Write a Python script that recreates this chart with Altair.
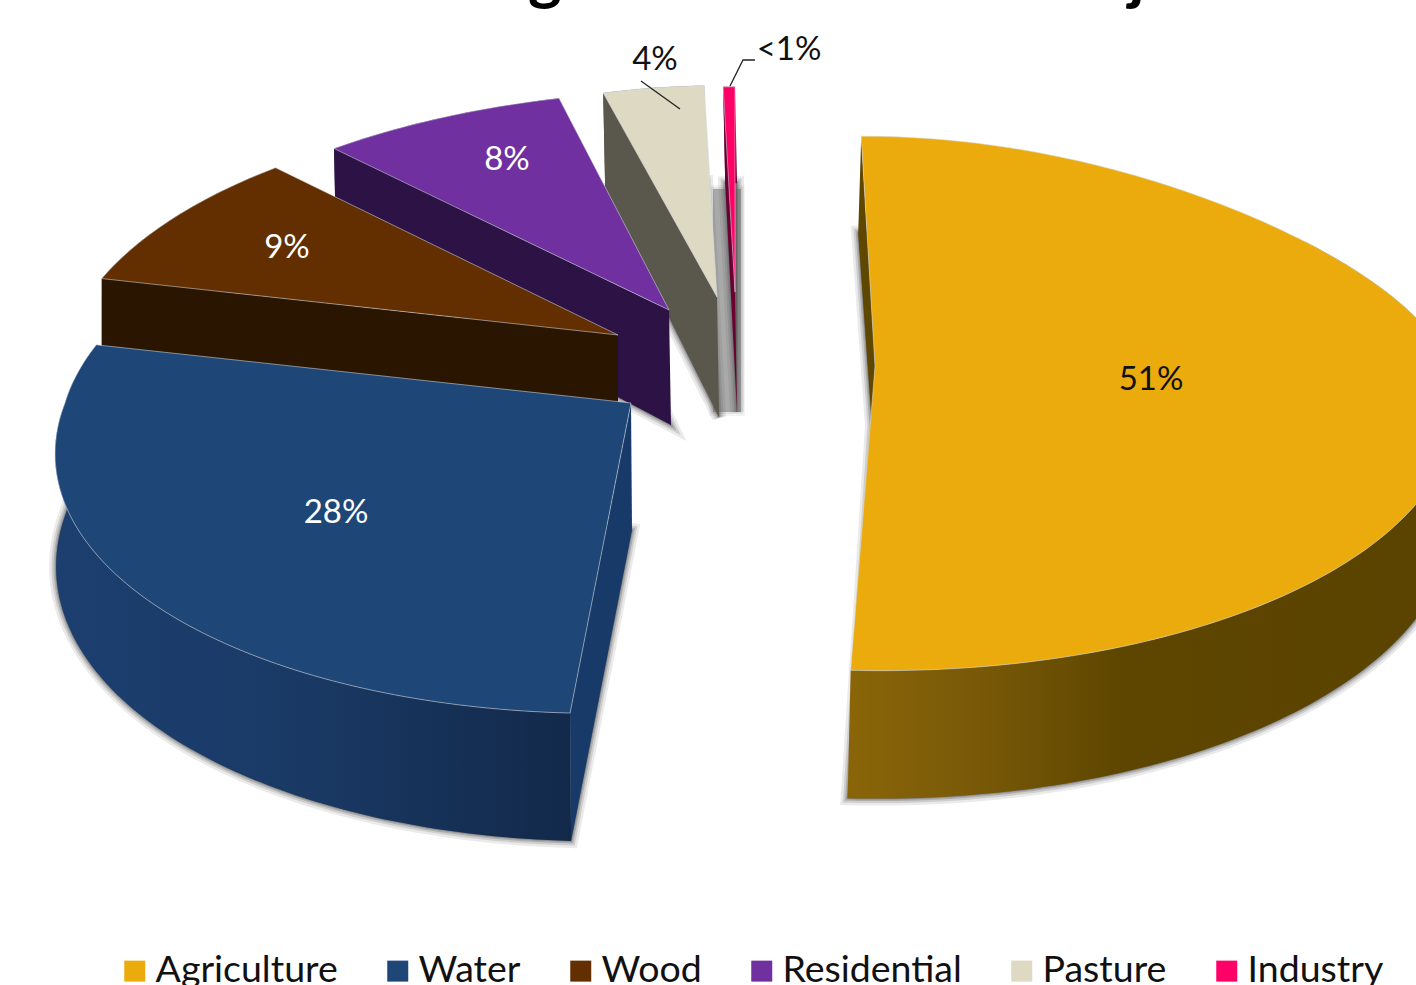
import math
import altair as alt

# Land use shares, in the order the pie runs clockwise from twelve o'clock
categories = ["Agriculture", "Water", "Wood", "Residential", "Pasture", "Industry"]
shares = [51, 28, 9, 8, 4, 0.5]
top_colors = ["#EBAB0D", "#1E4778", "#632F00", "#7030A0", "#DDD9C3", "#FF0066"]
edge_colors = ["#5F4700", "#183A68", "#2A1500", "#2C1245", "#5A574C", "#6B0033"]
rim_colors = ["#5F4700", "#1A3A66", "#2A1500", "#2C1245", "#5A574C", "#6B0033"]
label_colors = ["#111111", "#FFFFFF", "#FFFFFF", "#FFFFFF", "#111111", "#111111"]

TITLE = "Actual Percentage of Land Use in Project Area"
FONT = "Lato"
W, H = 1416, 985
TILT = 0.14        # foreshortening of the far side of the pie

# Exploded slice placement and its projection: apex, half-axes, skew, wall height
slice_layout = {
    "Agriculture": dict(apex=(875, 366), a=575, b=262, skew=0.06, skew_front=0.023, squash=0.15,
                        depth=60, shift=-3, rim=110, label=(276, 14)),
    "Water": dict(apex=(631, 403), a=566, b=267, skew=0.0, skew_front=-0.097,
                  depth=127, shift=1, rim=110, label=(-295, 110)),
    "Wood": dict(apex=(618, 335), a=550, b=259, skew=-0.06, depth=115, shift=0, rim=110, label=(-331, -87)),
    "Residential": dict(apex=(669, 310), a=553, b=250, skew=-0.12, depth=115, shift=2, rim=110, label=(-162, -150)),
    "Pasture": dict(apex=(717, 297), a=465, b=241, skew=0.0, depth=120, shift=2, rim=110, label=(-62, -237)),
    "Industry": dict(apex=(735, 292), a=430, b=234, skew=0.0, depth=120, shift=2, rim=110, label=(54, -242)),
}


def rim_point(layout, theta):
    """Project a rim angle (degrees clockwise from the back) onto the page."""
    t = math.radians(theta)
    w = 1 + TILT * math.cos(t)
    dx = layout["a"] * math.sin(t) / w
    dy = -layout["b"] * math.cos(t) / w
    if dy < 0:
        dy *= 1 - layout.get("squash", 0) * math.sin(t) ** 2
    skew = layout["skew"] if dy <= 0 else layout.get("skew_front", layout["skew"])
    x0, y0 = layout["apex"]
    return [x0 + dx + skew * dy, y0 + dy]


def wall_drop(layout, theta):
    return layout["rim"] / (1 + TILT * math.cos(math.radians(theta)))


def arc_angles(a0, a1, step=1.0):
    n = max(2, int(abs(a1 - a0) / step) + 1)
    return [a0 + (a1 - a0) * i / (n - 1) for i in range(n)]


def feature(ring, name):
    ring = [list(p) for p in ring]
    ring.append(ring[0])
    return {"type": "Feature", "properties": {"name": name},
            "geometry": {"type": "Polygon", "coordinates": [ring]}}


def shape_layer(features, **mark_kwargs):
    return (
        alt.Chart(alt.Data(values=features))
        .mark_geoshape(**mark_kwargs)
        .project(type="identity", scale=1, translate=[0, 0])
    )


unit = 360 / sum(shares)
spans = []
angle = 0.0
for value in shares:
    spans.append((angle, angle + value * unit))
    angle += value * unit

# Horizontal shading of the two front walls
wall_gradients = {
    "Agriculture": alt.LinearGradient(
        gradient="linear", x1=0, x2=1, y1=0, y2=0,
        stops=[alt.GradientStop(color="#8A6508", offset=0),
               alt.GradientStop(color="#7A5A08", offset=0.2),
               alt.GradientStop(color="#5E4600", offset=0.45),
               alt.GradientStop(color="#5A4300", offset=1)]),
    "Water": alt.LinearGradient(
        gradient="linear", x1=0, x2=1, y1=0, y2=0,
        stops=[alt.GradientStop(color="#1C3F70", offset=0),
               alt.GradientStop(color="#1A3A66", offset=0.45),
               alt.GradientStop(color="#12294A", offset=1)]),
}
wall_ranges = {"Agriculture": (55, None), "Water": (None, 275)}

color_scale = alt.Scale(domain=categories, range=top_colors)
legend = alt.Legend(
    orient="none", legendX=116, legendY=952, direction="horizontal", columns=6, title=None,
    symbolType="square", symbolSize=441, symbolStrokeWidth=0, symbolOpacity=1,
    labelFont=FONT, labelFontSize=37.5, labelColor="#111111", labelOffset=2,
    columnPadding=41, padding=0, labelLimit=400, rowPadding=0,
)

layers = []

# Grey backing seen through the gap behind the narrowest slice
ix, iy = slice_layout["Industry"]["apex"]
backing = feature([[ix - 22, iy - 103], [ix + 6, iy - 103], [ix + 6, iy + 120], [ix - 22, iy + 120]], "Industry")
for width, alpha in [(8, 0.12), (4, 0.18)]:
    layers.append(shape_layer([backing], fill="#A9A9A9", fillOpacity=1, stroke="#A0A0A0",
                              strokeOpacity=alpha, strokeWidth=width))

# Painted from the back of the pie to the front so nearer slices cover farther ones
for i in reversed(range(len(categories))):
    name = categories[i]
    layout = slice_layout[name]
    a0, a1 = spans[i]
    x0, y0 = layout["apex"]
    angles = arc_angles(a0, a1)
    rim = [rim_point(layout, t) for t in angles]
    lowered = [[p[0] + layout["shift"], p[1] + wall_drop(layout, t)] for p, t in zip(rim, angles)]
    apex_low = [x0 + layout["shift"], y0 + layout["depth"]]

    # Soft shadow under the slice's floor
    floor = feature([apex_low] + lowered, name)
    for width, alpha in [(14, 0.13), (9, 0.2), (5, 0.3), (2, 0.4)]:
        layers.append(shape_layer([floor], fill="#606060", fillOpacity=alpha, stroke="#606060",
                                  strokeOpacity=alpha, strokeWidth=width))

    # Outer curved wall
    lo, hi = wall_ranges.get(name, (None, None))
    wall_angles = [t for t in angles if (lo is None or t >= lo) and (hi is None or t <= hi)]
    wall_top = [rim_point(layout, t) for t in wall_angles]
    wall_low = [[p[0] + layout["shift"], p[1] + wall_drop(layout, t)] for p, t in zip(wall_top, wall_angles)]
    wall_fill = wall_gradients.get(name, rim_colors[i])
    layers.append(shape_layer([feature(wall_top + wall_low[::-1], name)], fill=wall_fill))

    # Straight cut wall along the leading edge of the slice
    edge = [rim[0], [x0, y0], apex_low, lowered[0]]
    layers.append(shape_layer([feature(edge, name)], fill=edge_colors[i]))

    # Top face, which also feeds the legend
    top = feature([[x0, y0]] + rim, name)
    layers.append(
        shape_layer([top], stroke="#D5DCE4", strokeOpacity=0.55, strokeWidth=1).encode(
            color=alt.Color("properties.name:N", scale=color_scale, legend=legend,
                            sort=categories)
        )
    )


def percent_text(value):
    return "<1%" if value < 1 else f"{value:.0f}%"


label_rows = []
for i, name in enumerate(categories):
    x0, y0 = slice_layout[name]["apex"]
    ox, oy = slice_layout[name]["label"]
    label_rows.append({"px": x0 + ox, "py": y0 + oy, "text": percent_text(shares[i]), "tone": label_colors[i]})

# Leader lines for the two narrow slices
leader_rows = [
    {"run": "pasture", "step": 0, "px": 641, "py": 81},
    {"run": "pasture", "step": 1, "px": 680, "py": 109},
    {"run": "industry", "step": 0, "px": 755, "py": 60},
    {"run": "industry", "step": 1, "px": 743, "py": 60},
    {"run": "industry", "step": 2, "px": 730, "py": 86},
]
leaders = alt.Chart(alt.Data(values=leader_rows)).mark_line(color="#222222", strokeWidth=1.3).encode(
    x=alt.X("px:Q", scale=None, axis=None),
    y=alt.Y("py:Q", scale=None, axis=None),
    detail="run:N",
    order="step:Q",
)

labels = alt.Chart(alt.Data(values=label_rows)).mark_text(font=FONT, fontSize=33, baseline="middle").encode(
    x=alt.X("px:Q", scale=None, axis=None),
    y=alt.Y("py:Q", scale=None, axis=None),
    text="text:N",
    color=alt.Color("tone:N", scale=None, legend=None),
)

title_row = [{"px": 78, "py": -2, "text": TITLE}]
title = alt.Chart(alt.Data(values=title_row)).mark_text(
    font=FONT, fontSize=64, fontWeight="bold", baseline="alphabetic", align="left", color="#000000"
).encode(
    x=alt.X("px:Q", scale=None, axis=None),
    y=alt.Y("py:Q", scale=None, axis=None),
    text="text:N",
)

chart = alt.layer(*layers, leaders, labels, title).properties(
    width=W, height=H, padding=0, background="#FFFFFF",
    autosize=alt.AutoSizeParams(type="none"),
).configure_view(stroke=None)

chart.save("out.html", embed_options={"renderer": "svg", "actions": False})
